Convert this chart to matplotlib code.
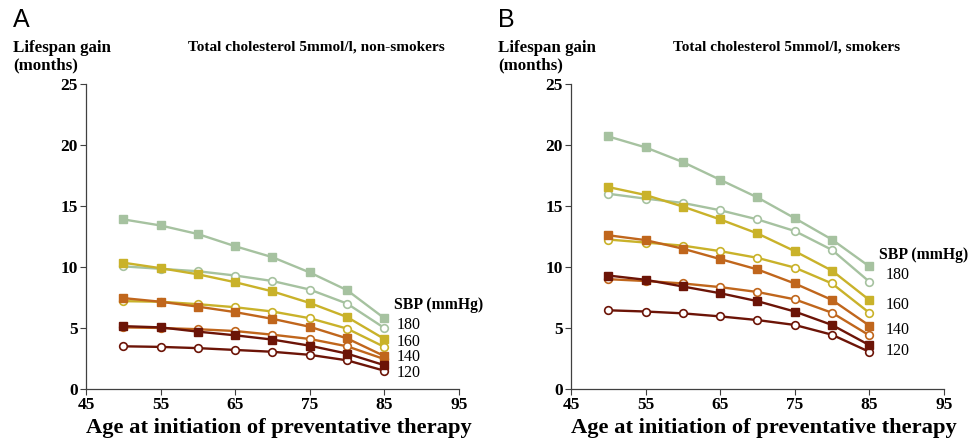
import numpy as np
import matplotlib.pyplot as plt

ages = [50, 55, 60, 65, 70, 75, 80, 85]
sbp_levels = ['180', '160', '140', '120']
colors = ['#a6c2a0', '#c9b22a', '#c0661c', '#6c1407']

# panel A: non-smokers, filled squares / open circles per SBP
a_filled = {
    '180': [13.9, 13.4, 12.7, 11.7, 10.8, 9.55, 8.1, 5.8],
    '160': [10.35, 9.9, 9.4, 8.75, 8.0, 7.05, 5.9, 4.1],
    '140': [7.45, 7.15, 6.75, 6.3, 5.75, 5.1, 4.15, 2.7],
    '120': [5.15, 5.05, 4.7, 4.4, 4.05, 3.55, 2.9, 1.95],
}
a_open = {
    '180': [10.05, 9.85, 9.65, 9.3, 8.85, 8.15, 7.0, 5.0],
    '160': [7.2, 7.15, 6.95, 6.7, 6.35, 5.8, 4.95, 3.45],
    '140': [5.05, 5.0, 4.9, 4.75, 4.45, 4.1, 3.5, 2.45],
    '120': [3.5, 3.45, 3.35, 3.2, 3.05, 2.8, 2.35, 1.5],
}

# panel B: smokers
b_filled = {
    '180': [20.7, 19.8, 18.6, 17.15, 15.7, 14.0, 12.25, 10.05],
    '160': [16.55, 15.9, 14.95, 13.9, 12.75, 11.3, 9.7, 7.3],
    '140': [12.6, 12.2, 11.5, 10.65, 9.8, 8.65, 7.3, 5.2],
    '120': [9.3, 8.95, 8.4, 7.85, 7.2, 6.35, 5.25, 3.6],
}
b_open = {
    '180': [16.0, 15.6, 15.25, 14.65, 13.9, 12.95, 11.4, 8.8],
    '160': [12.25, 12.0, 11.75, 11.3, 10.75, 9.95, 8.65, 6.25],
    '140': [9.0, 8.85, 8.65, 8.35, 7.95, 7.35, 6.25, 4.4],
    '120': [6.45, 6.35, 6.2, 5.95, 5.65, 5.25, 4.45, 3.05],
}

serif = 'Liberation Serif'

fig = plt.figure(figsize=(9.71, 4.46), dpi=100)


def draw_panel(left, letter, title, filled, opened, sbp_x, sbp_y, num_x, lab_ys):
    ax = fig.add_axes([left, 0.1278, 0.384, 0.684])
    for sbp, c in zip(sbp_levels, colors):
        ax.plot(ages, opened[sbp], '-o', color=c, lw=1.7, ms=5.5,
                mfc='white', mec=c, mew=1.2, clip_on=False)
        ax.plot(ages, filled[sbp], '-s', color=c, lw=1.7, ms=5.5,
                mfc=c, mec=c, clip_on=False)
    ax.set_xlim(45, 95)
    ax.set_ylim(0, 25)
    ax.set_xticks([45, 55, 65, 75, 85, 95])
    ax.set_yticks([0, 5, 10, 15, 20, 25])
    for s in ['top', 'right']:
        ax.spines[s].set_visible(False)
    for s in ['left', 'bottom']:
        ax.spines[s].set_color('#404040')
        ax.spines[s].set_linewidth(0.9)
    ax.tick_params(direction='out', length=4, width=0.8, color='#404040', pad=2)
    for lbl in ax.get_xticklabels() + ax.get_yticklabels():
        lbl.set_fontfamily(serif)
        lbl.set_fontweight('bold')
        lbl.set_fontsize(12.5)
    ax.set_xlabel('Age at initiation of preventative therapy', fontfamily=serif,
                  fontweight='bold', fontsize=16.2, labelpad=3)
    ax.xaxis.label.set_x(0.518)

    ax.text(sbp_x, sbp_y, 'SBP (mmHg)', fontfamily=serif, fontweight='bold',
            fontsize=11.3, va='center', ha='left', clip_on=False)
    for sbp, yy in zip(sbp_levels, lab_ys):
        ax.text(num_x, yy, sbp, fontfamily=serif, fontsize=11.5,
                va='center', ha='left', clip_on=False)

    fx = left - 0.075
    fig.text(fx, 0.955, letter, fontfamily='Liberation Sans', fontsize=18,
             va='center', ha='left')
    fig.text(fx, 0.872, 'Lifespan gain\n(months)', fontfamily=serif,
             fontweight='bold', fontsize=12.2, va='center', ha='left',
             linespacing=1.1)
    fig.text(left + 0.105, 0.895, title, fontfamily=serif, fontweight='bold',
             fontsize=11, va='center', ha='left')
    return ax


draw_panel(0.0886, 'A', 'Total cholesterol 5mmol/l, non-smokers',
           a_filled, a_open, 86.3, 6.9, 86.6, [5.25, 3.85, 2.6, 1.3])
draw_panel(0.588, 'B', 'Total cholesterol 5mmol/l, smokers',
           b_filled, b_open, 86.3, 11.0, 87.2, [9.35, 6.9, 4.85, 3.1])

plt.savefig('out.png', dpi=100)
